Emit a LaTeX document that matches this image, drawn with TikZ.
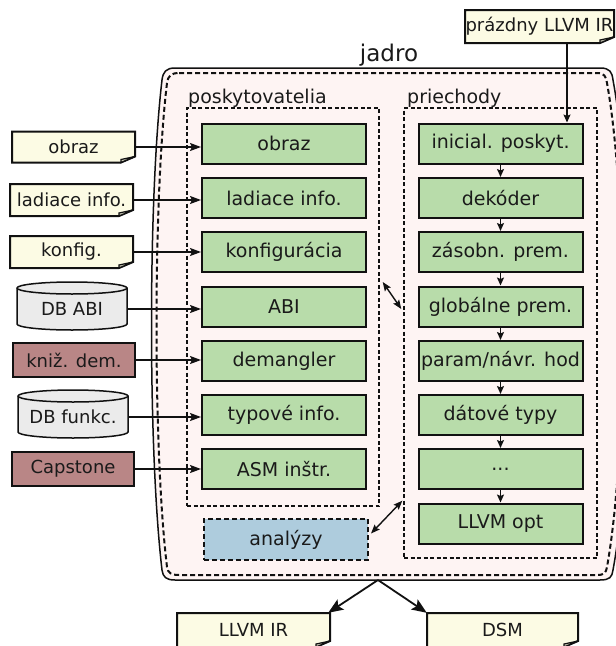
\documentclass[tikz,border=0pt]{standalone}
\usepackage{fontspec}
\setmainfont{DejaVu Sans}
\usetikzlibrary{arrows.meta}
\definecolor{gfill}{HTML}{B8DCAA}
\definecolor{nfill}{HTML}{FCFBE4}
\definecolor{bfill}{HTML}{B98686}
\definecolor{cfill}{HTML}{EBEBEB}
\definecolor{pfill}{HTML}{FEF4F3}
\definecolor{afill}{HTML}{AECCDD}
\definecolor{txt}{HTML}{1A1A1A}
\definecolor{edge}{HTML}{111111}
\newcommand\mynote[6]{%
  \path[draw=edge, line width=2pt, fill=nfill, line join=miter]
    ({#2-#4/2},{#3-#5/2}) -- ({#2+#4/2},{#3-#5/2}) -- ({#2+#4/2},{#3+#5/2-6}) --
    ({#2+#4/2-14},{#3+#5/2}) -- ({#2-#4/2},{#3+#5/2}) -- cycle;
  \path[draw=edge, line width=1.2pt, fill=nfill!80!black]
    ({#2+#4/2},{#3+#5/2-6}) -- ({#2+#4/2-14},{#3+#5/2-3}) -- ({#2+#4/2-14},{#3+#5/2}) -- cycle;
  \node[smalltext, minimum width=#4pt, minimum height=#5pt] (#1) at (#2,#3) {#6};
}
\newcommand\mycyl[6]{%
  \path[draw=edge, line width=1.5pt, fill=cfill]
    ({#2-#4/2},{#3-#5/2+6}) -- ({#2-#4/2},{#3+#5/2-6})
    arc[start angle=180, end angle=360, x radius=#4pt/2, y radius=6pt]
    -- ({#2+#4/2},{#3-#5/2+6})
    arc[start angle=0, end angle=180, x radius=#4pt/2, y radius=6pt] -- cycle;
  \path[draw=edge, line width=1.5pt]
    ({#2-#4/2},{#3-#5/2+6}) arc[start angle=180, end angle=360, x radius=#4pt/2, y radius=6pt];
  \node[smalltext, minimum width=#4pt, minimum height=#5pt-6pt] (#1) at (#2,#3+3) {#6};
}
\tikzset{
  bigtext/.style={font=\fontsize{19}{22}\selectfont, text=txt},
  smalltext/.style={font=\fontsize{18}{21}\selectfont, text=txt, inner sep=0pt},
  gbox/.style={bigtext, draw=edge, line width=2pt, fill=gfill, minimum width=164pt, minimum height=40pt, inner sep=0pt},
  dbox/.style={draw=edge, line width=1.4pt, dash pattern=on 4pt off 2.5pt, inner sep=0pt},
  brownbox/.style={smalltext, draw=edge, line width=1.6pt, fill=bfill, minimum width=122pt, minimum height=34pt},
  anabox/.style={bigtext, draw=edge, line width=2pt, dash pattern=on 5pt off 3pt, fill=afill, minimum width=164pt, minimum height=41pt, inner sep=0pt},
  larrow/.style={draw=edge, line width=1.6pt, -{Stealth[length=11pt, width=8pt, inset=2pt]}},
  sarrow/.style={draw=edge, line width=1.4pt, -{Stealth[length=8pt, width=7pt, inset=1.5pt]}},
  barrow/.style={draw=edge, line width=1.4pt, {Stealth[length=9pt, width=7pt, inset=1.5pt]}-{Stealth[length=9pt, width=7pt, inset=1.5pt]}},
  bigarrow/.style={draw=edge, line width=1.8pt, -{Stealth[length=15pt, width=12pt, inset=3pt]}},
}
\begin{document}
\begin{tikzpicture}[x=1pt, y=-1pt]
\useasboundingbox (0,0) rectangle (616,646);
% jadro container
\path[draw=edge, line width=1.5pt, fill=pfill]
  (175,68) -- (600,68) .. controls (610,68) and (612,72) .. (613,80)
  .. controls (635,200) and (635,450) .. (613,570)
  .. controls (612,577) and (610,580) .. (600,580) -- (175,580)
  .. controls (166,580) and (163,577) .. (162,570)
  .. controls (148,450) and (148,200) .. (162,80)
  .. controls (163,72) and (166,68) .. (175,68) -- cycle;
\path[draw=edge, line width=2pt, dash pattern=on 5pt off 3pt]
  (179,73) -- (597,73) .. controls (604,73) and (606,76) .. (607,83)
  .. controls (628,200) and (628,450) .. (607,567)
  .. controls (606,573) and (604,575) .. (597,575) -- (179,575)
  .. controls (171,575) and (168,573) .. (167,567)
  .. controls (153,450) and (153,200) .. (167,83)
  .. controls (168,76) and (171,73) .. (179,73) -- cycle;
\coordinate (split) at (378,580);
\node[font=\fontsize{23}{26}\selectfont, text=txt, anchor=base] (jadro) at (389,61) {jadro};
% containers
\node[dbox, minimum width=192pt, minimum height=398pt] (posk) at (283,307) {};
\node[dbox, minimum width=193pt, minimum height=450pt] (prie) at (500.5,333) {};
\node[bigtext, anchor=base west, inner sep=0pt] (poskl) at (188,103) {poskytovatelia};
\node[bigtext, anchor=base west, inner sep=0pt] (priel) at (407,103) {priechody};
% left column
\node[gbox] (L1) at (284,143.5) {obraz};
\node[gbox] (L2) at (284,198) {ladiace info.};
\node[gbox] (L3) at (284,252) {konfigurácia};
\node[gbox] (L4) at (284,306.5) {ABI};
\node[gbox] (L5) at (284,361) {demangler};
\node[gbox] (L6) at (284,415) {typové info.};
\node[gbox] (L7) at (284,469) {ASM inštr.};
% right column
\node[gbox] (R1) at (500.5,143.5) {inicial. poskyt.};
\node[gbox] (R2) at (500.5,198) {dekóder};
\node[gbox] (R3) at (500.5,252) {zásobn. prem.};
\node[gbox] (R4) at (500.5,306.5) {globálne prem.};
\node[gbox] (R5) at (500.5,361) {param/návr. hod};
\node[gbox] (R6) at (500.5,415) {dátové typy};
\node[gbox] (R7) at (500.5,469) {...};
\node[gbox] (R8) at (500.5,523.5) {LLVM opt};
\node[anabox] (ana) at (286,539.5) {analýzy};
% external inputs
\mynote{pz}{539.5}{26.5}{149}{33}{prázdny LLVM IR}
\mynote{n1}{73.5}{147}{123}{31}{obraz}
\mynote{n2}{71.5}{200}{123}{32}{ladiace info.}
\mynote{n3}{71.5}{252}{123}{32}{konfig.}
\mycyl{n4}{72}{306}{110}{48}{DB ABI}
\node[brownbox] (n5) at (74,360) {kniž. dem.};
\mycyl{n6}{73}{414}{110}{48}{DB funkc.}
\node[brownbox] (n7) at (73,469) {Capstone};
% outputs
\mynote{llvm}{253.5}{630}{153}{34}{LLVM IR}
\mynote{dsm}{502.5}{630}{151}{34}{DSM}
% connectors
\draw[larrow] (n1.east) -- (n1.east -| L1.west);
\draw[larrow] (n2.east) -- (n2.east -| L2.west);
\draw[larrow] (n3.east) -- (n3.east -| L3.west);
\draw[larrow] (n4.east) -- (n4.east -| L4.west);
\draw[larrow] (n5.east) -- (n5.east -| L5.west);
\draw[larrow] (n6.east) -- (n6.east -| L6.west);
\draw[larrow] (n7.east) -- (n7.east -| L7.west);
\draw[sarrow] ([xshift=27.5pt]pz.south) -- ([xshift=27.5pt]pz.south |- R1.north);
\draw[sarrow] (R1.south) -- (R2.north);
\draw[sarrow] (R2.south) -- (R3.north);
\draw[sarrow] (R3.south) -- (R4.north);
\draw[sarrow] (R4.south) -- (R5.north);
\draw[sarrow] (R5.south) -- (R6.north);
\draw[sarrow] (R6.south) -- (R7.north);
\draw[sarrow] (R7.south) -- (R8.north);
\draw[barrow] ([xshift=3pt, yshift=25pt]posk.east) -- ([xshift=-2pt, yshift=24pt]prie.west);
\draw[barrow] ([xshift=2pt, yshift=6pt]ana.east) -- ([xshift=-1pt, yshift=58pt]prie.south west);
\draw[bigarrow] (split) -- ([xshift=-2pt]llvm.north east);
\draw[bigarrow] (split) -- (dsm.north west);
\end{tikzpicture}
\end{document}
